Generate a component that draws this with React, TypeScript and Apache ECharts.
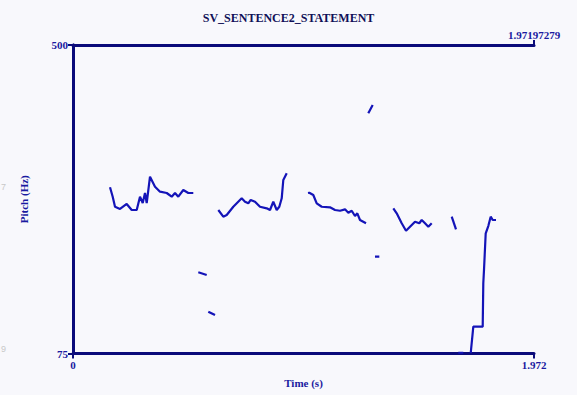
import React, { useEffect, useRef } from "react";
import * as echarts from "echarts";

// Pitch contour segments: [time (s), pitch (Hz)]
const seg1: [number, number][] = [
  [0.1583, 304.0], [0.1698, 291.0], [0.1797, 277.2], [0.2011, 274.1], [0.2297, 281.0],
  [0.2511, 272.7], [0.2725, 272.7], [0.2866, 291.0], [0.2982, 282.3], [0.308, 296.1],
  [0.3153, 282.3], [0.3294, 318.6], [0.3508, 304.8], [0.3722, 297.9], [0.4008, 296.1],
  [0.4222, 291.0], [0.4364, 296.1], [0.4504, 291.0], [0.4718, 300.2], [0.4932, 296.1],
  [0.5146, 296.1],
];
const seg2: [number, number][] = [
  [0.6216, 272.7], [0.6429, 263.5], [0.6575, 265.8], [0.6857, 277.2], [0.7216, 288.8],
  [0.7358, 284.1], [0.7499, 281.9], [0.7602, 286.5], [0.7785, 284.1], [0.7999, 277.2],
  [0.8286, 275.0], [0.8427, 272.7], [0.8568, 284.1], [0.8714, 272.7], [0.8825, 277.2],
  [0.8928, 288.8], [0.8996, 314.0], [0.9142, 323.2],
];
const seg3: [number, number][] = [
  [1.0053, 296.1], [1.0108, 296.5], [1.0279, 293.4], [1.0425, 281.9], [1.0639, 277.2],
  [1.0994, 276.4], [1.1208, 272.7], [1.1422, 271.7], [1.1636, 273.6], [1.1777, 269.0],
  [1.1922, 271.7], [1.2063, 264.4], [1.2162, 268.1], [1.2277, 258.9], [1.2534, 254.4],
];
const seg4: [number, number][] = [
  [1.3702, 275.0], [1.3847, 268.1], [1.4061, 254.4], [1.4245, 244.2], [1.4416, 249.7],
  [1.463, 256.6], [1.4814, 254.4], [1.4917, 258.9], [1.5058, 254.4], [1.5199, 249.7],
  [1.5344, 254.4],
];
const seg5: [number, number][] = [[1.62, 263.5], [1.6384, 246.1]];
const seg6: [number, number][] = [
  [1.7013, 75.5], [1.7124, 111.9], [1.7338, 111.9], [1.7526, 111.9], [1.7551, 171.7],
  [1.7581, 190.0], [1.7654, 240.6], [1.7765, 250.6], [1.7868, 263.5], [1.7954, 258.9],
  [1.8095, 258.9],
];
const segA: [number, number][] = [[0.536, 186.9], [0.5719, 183.1]];
const segB: [number, number][] = [[0.5788, 132.6], [0.6074, 128.0]];
const segC: [number, number][] = [[1.2632, 405.9], [1.282, 417.3]];
const segD: [number, number][] = [[1.2918, 208.4], [1.3103, 208.4]];
const segE: [number, number][] = [[1.6482, 76.0], [1.6696, 76.0]];

const segments = [seg1, seg2, seg3, seg4, seg5, seg6, segA, segB, segC, segD, segE];

const xTicks = [0, 1.972];
const xTopTicks = [1.972];
const yTicks = [75, 500];
const TOP_LABEL = "1.97197279";

const NAVY = "#0b0b7a";
const LABEL = "#1a1aa0";
const TRACE = "#1414b8";
const BG = "#f8f8fc";
const FONT = "'Liberation Serif', 'DejaVu Serif', serif";

export default function App() {
  const ref = useRef<HTMLDivElement>(null);

  useEffect(() => {
    document.body.style.margin = "0";
    document.body.style.background = BG;
    if (!ref.current) return;
    const chart = echarts.init(ref.current, undefined, { renderer: "svg" });

    const axisLine = { show: true, lineStyle: { color: NAVY, width: 3 } };
    const labelStyle = { color: LABEL, fontFamily: FONT, fontWeight: "bold" as const, fontSize: 11 };

    chart.setOption({
      animation: false,
      backgroundColor: BG,
      title: {
        text: "SV_SENTENCE2_STATEMENT",
        left: "center",
        top: 7,
        textStyle: { color: "#101058", fontFamily: FONT, fontWeight: "bold", fontSize: 12 },
      },
      grid: { left: 73, right: 43, top: 45, bottom: 41.5, containLabel: false },
      xAxis: [
        {
          type: "value",
          position: "bottom",
          min: 0,
          max: 1.972,
          axisLine,
          axisTick: { show: true, customValues: xTicks, length: 5, lineStyle: { color: NAVY, width: 2 } },
          axisLabel: {
            show: true,
            customValues: xTicks,
            margin: 6,
            formatter: (v: number) => (v === 0 ? "0" : String(v)),
            ...labelStyle,
          },
          splitLine: { show: false },
          name: "Time (s)",
          nameLocation: "middle",
          nameGap: 24,
          nameTextStyle: { ...labelStyle, fontSize: 11 },
        },
        {
          type: "value",
          position: "top",
          min: 0,
          max: 1.972,
          axisLine,
          axisTick: { show: true, customValues: xTopTicks, length: 5, lineStyle: { color: NAVY, width: 2 } },
          axisLabel: {
            show: true,
            customValues: xTopTicks,
            margin: 5,
            formatter: () => TOP_LABEL,
            ...labelStyle,
          },
          splitLine: { show: false },
        },
      ],
      yAxis: [
        {
          type: "value",
          position: "left",
          min: 75,
          max: 500,
          axisLine,
          axisTick: { show: true, customValues: yTicks, length: 5, lineStyle: { color: NAVY, width: 2 } },
          axisLabel: { show: true, customValues: yTicks, margin: 5, ...labelStyle },
          splitLine: { show: false },
          name: "Pitch (Hz)",
          nameLocation: "middle",
          nameRotate: 90,
          nameGap: 44,
          nameTextStyle: { ...labelStyle, fontSize: 11 },
        },
        {
          type: "value",
          position: "right",
          min: 75,
          max: 500,
          axisLine,
          axisTick: { show: false },
          axisLabel: { show: false },
          splitLine: { show: false },
        },
      ],
      graphic: [
        { type: "text", left: 1, top: 182, style: { text: "7", fill: "#c8c8c8", font: "9px sans-serif" } },
        { type: "text", left: 1, top: 344, style: { text: "9", fill: "#c8c8c8", font: "9px sans-serif" } },
      ],
      series: segments.map((seg) => ({
        type: "line",
        data: seg,
        showSymbol: false,
        symbol: "none",
        xAxisIndex: 0,
        yAxisIndex: 0,
        lineStyle: { color: TRACE, width: 2.2 },
        silent: true,
      })),
    });

    return () => chart.dispose();
  }, []);

  return <div ref={ref} style={{ width: 577, height: 395 }} />;
}
